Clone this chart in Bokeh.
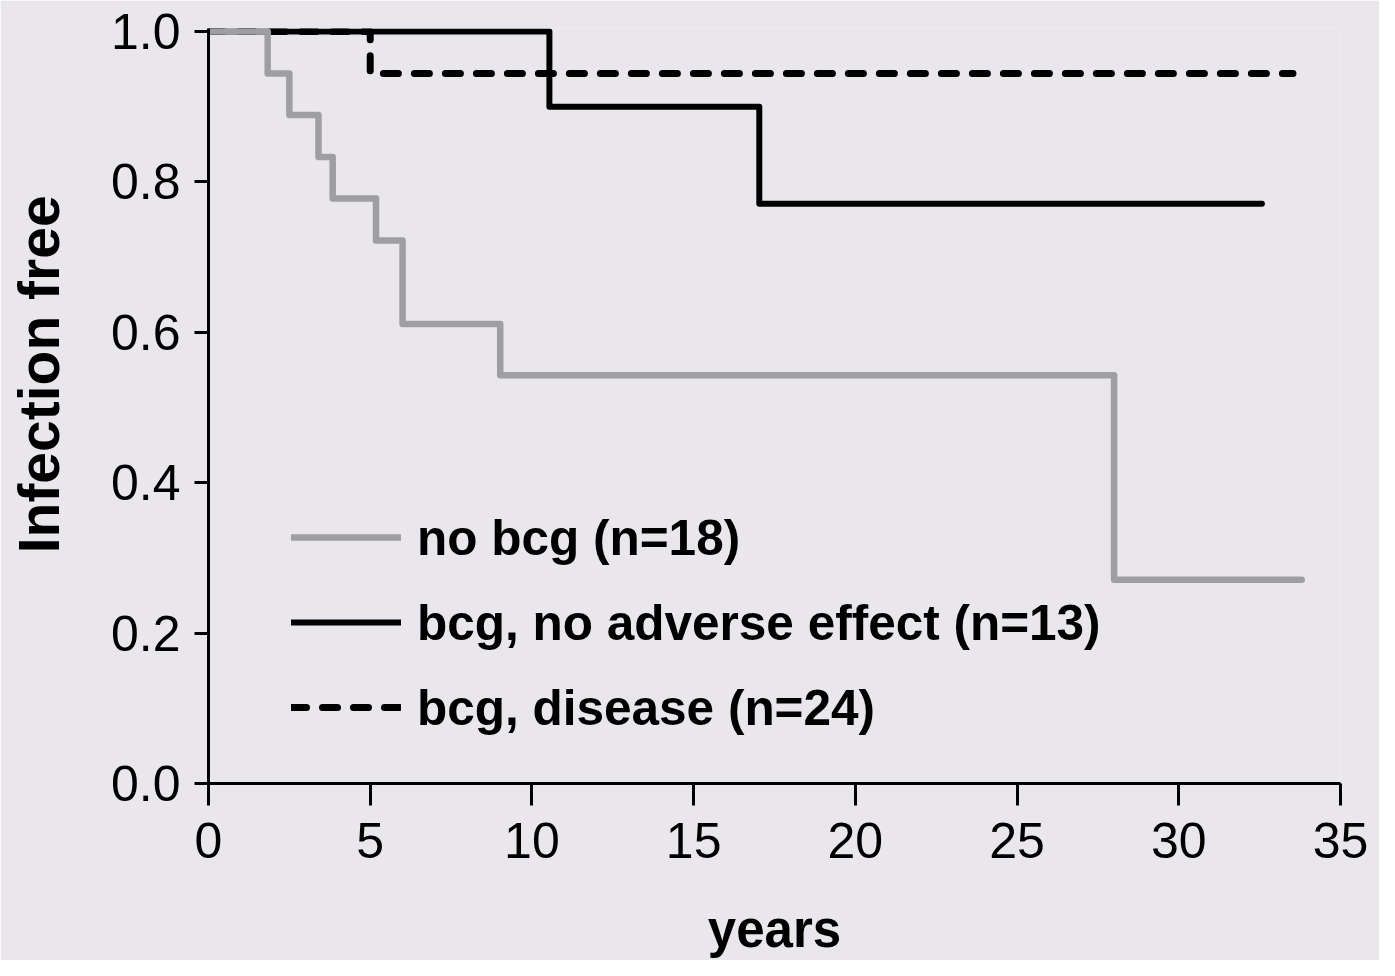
from bokeh.plotting import figure
from bokeh.models import FixedTicker, PrintfTickFormatter, Legend, LegendItem, Range1d
from bokeh.embed import file_html
from bokeh.resources import INLINE

# ---- data ----
no_bcg_years = [0.0, 1.83, 2.5, 3.4, 3.84, 5.18, 6.0, 9.02, 28.0, 33.8]
no_bcg_surv = [1.0, 0.944, 0.889, 0.833, 0.778, 0.722, 0.611, 0.543, 0.271, 0.271]

bcg_ok_years = [0.0, 10.54, 17.03, 32.57]
bcg_ok_surv = [1.0, 0.900, 0.771, 0.771]

bcg_dis_years = [0.0, 5.0, 33.53]
bcg_dis_surv = [1.0, 0.944, 0.944]

series_labels = ["no bcg (n=18)", "bcg, no adverse effect (n=13)", "bcg, disease (n=24)"]
x_title = "years"
y_title = "Infection free"
x_ticks = [0, 5, 10, 15, 20, 25, 30, 35]
y_ticks = [0.0, 0.2, 0.4, 0.6, 0.8, 1.0]

BG = "#E9E7EC"
GRAY = "#9F9EA3"
FONT = "Liberation Sans"
NBSP = "\u00a0"

p = figure(width=1379, height=960,
           x_range=Range1d(0, 35), y_range=Range1d(0, 1.004),
           output_backend="svg", toolbar_location=None,
           min_border_left=208, min_border_right=39,
           min_border_top=28, min_border_bottom=174,
           background_fill_color=BG, border_fill_color=BG,
           outline_line_color=None)
p.grid.visible = False

r_ok = p.step(bcg_ok_years, bcg_ok_surv, mode="after", line_color="black",
              line_width=6, line_join="round", line_cap="round")
r_dis = p.step(bcg_dis_years, bcg_dis_surv, mode="after", line_color="black",
               line_width=7, line_dash="15 16", line_join="round", line_cap="round")
r_no = p.step(no_bcg_years, no_bcg_surv, mode="after", line_color=GRAY,
              line_width=6.5, line_join="round", line_cap="round")

for ax in (p.xaxis[0], p.yaxis[0]):
    ax.axis_line_width = 3
    ax.axis_line_color = "black"
    ax.major_tick_line_width = 3
    ax.major_tick_line_color = "black"
    ax.major_tick_in = 0
    ax.minor_tick_line_color = None
    ax.major_label_text_font = FONT
    ax.major_label_text_font_size = "50px"
    ax.major_label_text_color = "black"
    ax.axis_label_text_font = FONT
    ax.axis_label_text_font_style = "bold"
    ax.axis_label_text_color = "black"

p.xaxis.ticker = FixedTicker(ticks=x_ticks)
p.xaxis.major_tick_out = 22
p.xaxis.major_label_standoff = 17
p.xaxis.axis_label = x_title
p.xaxis.axis_label_text_font_size = "51px"
p.xaxis.axis_label_standoff = 40

p.yaxis.ticker = FixedTicker(ticks=y_ticks)
p.yaxis.formatter = PrintfTickFormatter(format="%.1f")
p.yaxis.major_tick_out = 14
p.yaxis.major_label_standoff = 14
# leading no-break spaces lift the centred title like in the reference
p.yaxis.axis_label = NBSP * 4 + y_title
p.yaxis.axis_label_text_font_size = "57px"
p.yaxis.axis_label_standoff = 37

legend = Legend(items=[LegendItem(label=series_labels[0], renderers=[r_no]),
                       LegendItem(label=series_labels[1], renderers=[r_ok]),
                       LegendItem(label=series_labels[2], renderers=[r_dis])],
                location=(83, 47), orientation="vertical",
                glyph_width=110, glyph_height=58, label_height=58,
                label_standoff=16, spacing=27, padding=0, margin=0,
                border_line_color=None, background_fill_alpha=0,
                label_text_font=FONT, label_text_font_style="bold",
                label_text_font_size="49.5px", label_text_color="black")
p.add_layout(legend, "center")

open("out.html", "w").write(file_html(p, INLINE))
